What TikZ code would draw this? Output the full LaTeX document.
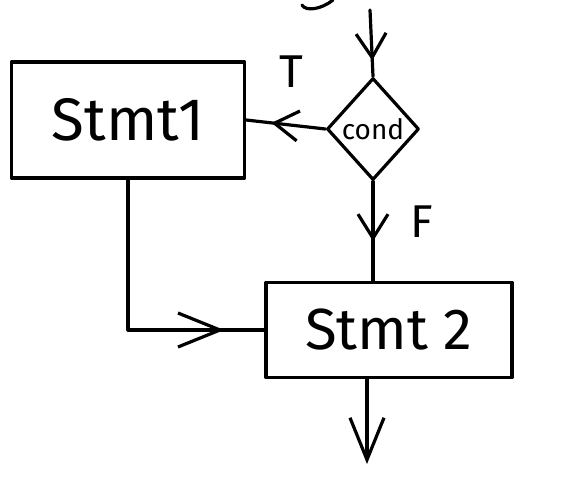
\documentclass[tikz,border=0pt]{standalone}
\usepackage{fontspec}
\setmainfont{Fira Sans}
\usetikzlibrary{arrows.meta,shapes.geometric,decorations.markings}

\tikzset{
  ink/.style={line width=3.2pt, line cap=round, line join=round},
  box/.style={ink, draw, rectangle, inner sep=0pt},
  test/.style={ink, draw, diamond, inner sep=0pt, minimum width=92pt, minimum height=102pt},
  barb/.tip={Straight Barb[length=24pt, width=30pt, line width=3.2pt]},
  longbarb/.tip={Straight Barb[length=42pt, width=34pt, line width=3.2pt]},
  tipat/.style={postaction={decorate},
    decoration={markings, mark=at position #1 with {\arrow{barb}}}},
  longtipat/.style={postaction={decorate},
    decoration={markings, mark=at position #1 with {\arrow{longbarb}}}},
  lbl/.style={font=\fontsize{46}{46}\selectfont, inner sep=0pt}
}

\begin{document}
\begin{tikzpicture}[x=1pt,y=-1pt]
  \useasboundingbox (0,0) rectangle (572,476);

  % tail of a previous stroke at the top
  \draw[ink] (302,5) .. controls (306,12) and (322,9) .. (333,0);

  % statements and the test
  \node[box, minimum width=233pt, minimum height=116pt,
        font=\fontsize{60}{60}\selectfont] (s1) at (128,120) {Stmt1};
  \node[test, font=\fontsize{28}{28}\selectfont] (cond) at (373,129) {cond};
  \node[box, minimum width=246pt, minimum height=95pt,
        font=\fontsize{58}{58}\selectfont] (s2) at (389,330) {Stmt 2};

  % entry and exit points
  \coordinate (entry) at (370,10);
  \coordinate (exit) at (367,464);

  % flow
  \draw[ink, tipat=0.76] (entry) -- (cond.north);
  \draw[ink, tipat=0.68] (cond.west) -- (s1.east);
  \draw[ink, tipat=0.6] (cond.south) -- (cond.south |- s2.north);
  \draw[ink, longtipat=0.86] (s1.south) |- (s2.west);
  \draw[ink, -{longbarb}] (exit |- s2.south) -- (exit);

  % branch labels
  \node[lbl] (t) at (291,72) {T};
  \node[lbl] (f) at (422,222) {F};
\end{tikzpicture}
\end{document}
